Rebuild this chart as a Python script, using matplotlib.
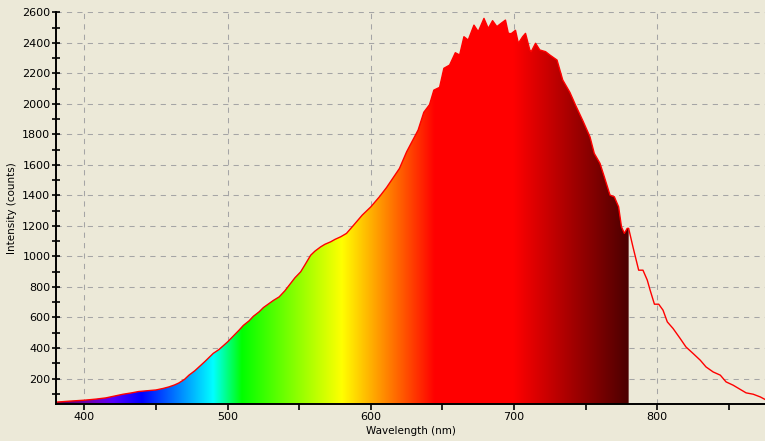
import numpy as np
import matplotlib.pyplot as plt
from matplotlib.ticker import MultipleLocator

# spectrum (nm, counts)
wavelength = [380, 390, 400, 408, 415, 421, 427, 433, 438, 444, 450, 455, 459, 463,
              466, 470, 473, 477, 480, 484, 487, 490, 494, 497, 500, 504, 508, 511,
              515, 518, 522, 525, 529, 532, 536, 540, 544, 547, 551, 554, 558, 561,
              565, 568, 572, 575, 579, 583, 588, 594, 600, 606, 611, 616, 620, 625,
              630, 633, 637, 641, 644, 648, 651, 655, 659, 662, 665, 668, 672, 675,
              679, 682, 685, 688, 691, 694, 696, 698, 701, 703, 706, 708, 711, 712,
              715, 718, 722, 725, 730, 734, 739, 743, 748, 753, 756, 760, 763, 767,
              770, 773, 775, 777, 779, 780, 783, 785, 787, 790, 793, 795, 798, 801,
              804, 807, 811, 816, 820, 825, 830, 834, 839, 844, 848, 853, 858, 862,
              867, 872, 875]
intensity = [45, 52, 58, 65, 73, 85, 97, 106, 115, 120, 125, 135, 145, 158,
             171, 195, 222, 250, 276, 310, 338, 365, 390, 415, 440, 478, 517, 548,
             578, 608, 637, 665, 692, 712, 735, 775, 823, 860, 899, 945, 1008, 1035,
             1063, 1080, 1096, 1112, 1129, 1151, 1205, 1271, 1325, 1391, 1452, 1522, 1577, 1686,
             1774, 1828, 1945, 1995, 2090, 2108, 2233, 2254, 2335, 2320, 2440, 2418, 2516, 2473,
             2560, 2494, 2545, 2506, 2528, 2549, 2462, 2460, 2482, 2397, 2440, 2462, 2353, 2342,
             2397, 2353, 2342, 2320, 2287, 2156, 2075, 1990, 1890, 1784, 1675, 1610, 1522, 1402,
             1391, 1325, 1194, 1151, 1184, 1184, 1063, 987, 910, 910, 845, 779, 687, 687,
             648, 571, 528, 462, 407, 364, 320, 276, 243, 222, 178, 156, 128, 106,
             97, 79, 64]
fill_end = 780


def wl_to_rgb(w):
    # Bruton style visible spectrum colour
    if w < 440:
        r, g, b = (440 - w) / 60, 0.0, 1.0
    elif w < 490:
        r, g, b = 0.0, (w - 440) / 50, 1.0
    elif w < 510:
        r, g, b = 0.0, 1.0, (510 - w) / 20
    elif w < 580:
        r, g, b = (w - 510) / 70, 1.0, 0.0
    elif w < 645:
        r, g, b = 1.0, (645 - w) / 65, 0.0
    else:
        r, g, b = 1.0, 0.0, 0.0
    if w < 420:
        f = 0.3 + 0.7 * (w - 380) / 40
    elif w > 700:
        f = 0.3 + 0.7 * (780 - w) / 80
    else:
        f = 1.0
    return (r * f, g * f, b * f)


bg = '#ece9d8'
fig = plt.figure(figsize=(7.65, 4.41), dpi=100, facecolor=bg)
ax = fig.add_axes([56 / 765, 37 / 441, 1 - 56 / 765, (404 - 12.3) / 441])
ax.set_facecolor(bg)

wl = np.array(wavelength, dtype=float)
cnt = np.array(intensity, dtype=float)
m = wl <= fill_end

ax.set_xlim(380.2, 875.2)
ax.set_ylim(33, 2600)

# coloured area under the curve
poly = ax.fill_between(wl[m], 0, cnt[m], facecolor='none', edgecolor='none')
grad_x = np.arange(380, fill_end + 1, 0.5)
grad = np.array([[wl_to_rgb(w) for w in grad_x]])
im = ax.imshow(grad, extent=[380, fill_end, 0, 2600], aspect='auto',
               interpolation='bilinear', zorder=2)
im.set_clip_path(poly.get_paths()[0], transform=ax.transData)

ax.plot(wl, cnt, color='#ff0000', linewidth=1.0, zorder=3)

ax.xaxis.set_major_locator(MultipleLocator(100))
ax.xaxis.set_minor_locator(MultipleLocator(50))
ax.yaxis.set_major_locator(MultipleLocator(200))
ax.yaxis.set_minor_locator(MultipleLocator(100))
ax.set_yticks([t for t in range(200, 2601, 200)])

ax.grid(True, which='major', color='#a5a5a5', linestyle=(0, (5, 5)), linewidth=0.75, zorder=1)
ax.set_axisbelow(True)

for s in ['top', 'right']:
    ax.spines[s].set_visible(False)
for s in ['left', 'bottom']:
    ax.spines[s].set_linewidth(1.4)
    ax.spines[s].set_zorder(4)

ax.tick_params(axis='y', which='both', direction='inout', length=6, width=1.2,
               labelsize=8, pad=1)
ax.tick_params(axis='x', which='both', direction='out', length=4, width=1.2,
               labelsize=8, pad=2)

ax.set_xlabel('Wavelength (nm)', fontsize=7.5, labelpad=3)
ax.set_ylabel('Intensity (counts)', fontsize=7.5, labelpad=4)

fig.savefig('out.png', dpi=100, facecolor=bg)
